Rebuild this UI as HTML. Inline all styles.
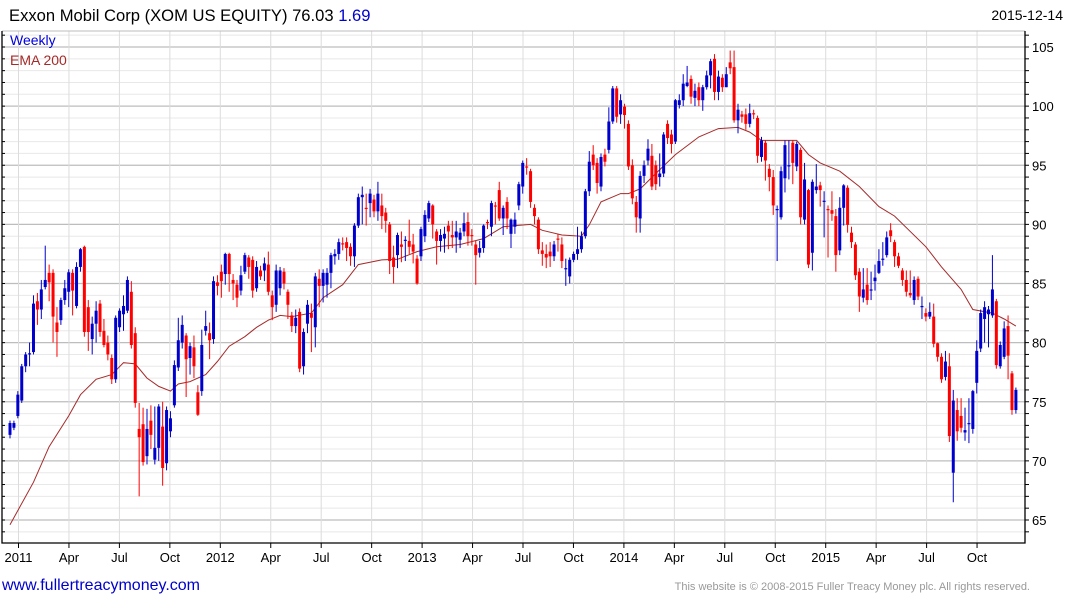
<!DOCTYPE html>
<html><head><meta charset="utf-8"><style>
html,body{margin:0;padding:0;background:#fff;}
body{width:1075px;height:600px;overflow:hidden;font-family:"Liberation Sans",Arial,sans-serif;}
svg text{font-family:"Liberation Sans",Arial,sans-serif;}
</style></head><body>
<svg id="chart" width="1075" height="600" xmlns="http://www.w3.org/2000/svg">
<g id="grid"></g>
<g id="ema"></g>
<g id="candles"></g>
<g id="axes"></g>
<text x="9" y="21" font-size="16.6" fill="#000">Exxon Mobil Corp (XOM US EQUITY) 76.03 <tspan fill="#0000cc">1.69</tspan></text>
<text x="1063" y="20" font-size="14" fill="#000" text-anchor="end">2015-12-14</text>
<text x="10" y="45" font-size="14" fill="#0000dd">Weekly</text>
<text x="10" y="65" font-size="14" fill="#a52a2a">EMA 200</text>
<text x="2" y="590" font-size="16" fill="#0000cc">www.fullertreacymoney.com</text>
<text x="1030" y="590" font-size="11" fill="#999" text-anchor="end">This website is © 2008-2015 Fuller Treacy Money plc. All rights reserved.</text>
</svg>
<script>
const opens=[72.2,72.8,73.8,75.1,78.0,79.0,79.2,83.5,82.8,84.7,85.9,85.9,81.7,81.9,83.6,84.3,85.9,83.1,86.4,88.1,83.0,80.3,81.6,83.3,81.0,80.0,78.7,76.9,81.3,82.4,82.7,84.3,80.8,72.7,73.1,70.4,73.4,70.1,71.1,72.9,69.8,72.5,74.7,77.9,80.0,80.6,78.7,79.6,75.8,75.9,81.0,80.8,80.3,85.1,86.0,85.8,87.5,85.3,84.9,84.4,86.0,87.2,87.0,84.6,86.1,86.1,86.6,84.0,83.2,84.6,86.0,84.3,82.3,81.4,82.6,78.0,81.6,82.5,81.3,85.4,84.8,84.9,85.9,87.3,87.5,88.4,88.5,88.1,87.3,89.9,92.3,91.4,91.8,92.1,91.1,91.6,91.0,90.0,87.2,87.4,88.3,88.6,88.6,88.3,87.1,87.3,89.0,90.5,91.6,89.4,88.6,88.8,89.9,89.1,88.9,88.7,89.4,90.2,89.1,88.3,87.6,88.0,90.2,89.8,91.6,92.9,90.5,91.9,89.2,89.8,91.6,93.2,94.9,94.5,91.4,90.4,87.8,87.5,87.7,87.3,88.8,88.3,86.2,85.6,87.0,87.5,87.9,89.0,92.8,95.9,95.2,93.2,95.9,96.3,98.7,101.5,99.3,99.96,98.5,95.0,91.9,90.5,94.1,95.4,95.8,95.0,94.0,94.3,98.5,97.6,97.0,100.1,100.5,101.7,102.3,100.7,101.6,100.5,101.6,102.6,104.0,101.2,102.4,101.6,103.7,103.3,98.8,99.3,99.3,98.5,99.4,99.0,95.7,96.9,94.7,94.0,91.3,90.6,93.9,95.0,96.9,94.9,96.3,90.4,92.9,87.6,92.9,93.3,92.0,91.3,91.2,90.7,87.8,91.4,93.1,89.3,88.3,86.0,83.8,84.9,84.5,85.2,85.9,87.1,87.4,89.5,88.5,87.3,86.1,85.3,84.2,83.6,85.4,83.1,82.5,82.2,82.2,79.95,78.8,77.1,78.0,69.0,74.3,73.8,72.4,73.2,72.7,76.6,79.5,82.0,82.4,82.3,83.5,78.0,78.8,81.4,77.4,74.3];
const closes=[73.2,73.2,75.6,78.0,79.0,79.1,83.3,82.8,84.5,85.3,85.1,82.2,80.9,83.6,84.6,85.95,84.4,86.4,87.9,80.9,80.9,81.6,82.7,80.9,79.8,79.0,76.9,82.1,82.7,83.1,85.3,79.8,74.9,72.0,69.9,72.7,72.2,71.1,74.6,69.4,74.3,73.6,78.1,80.2,81.5,78.6,79.7,78.0,73.9,79.8,81.4,80.2,85.2,84.8,85.2,87.5,85.8,85.0,83.8,85.7,87.4,86.4,84.4,86.4,85.6,86.7,84.3,83.0,86.1,86.1,85.0,83.2,81.4,82.1,77.8,80.9,83.2,82.1,85.6,84.8,85.9,85.9,87.4,87.5,88.5,88.3,88.0,87.3,89.9,92.3,92.5,91.3,92.6,91.1,92.6,90.7,90.3,86.9,86.4,89.1,88.1,88.7,88.1,87.7,85.0,89.6,90.8,91.8,90.0,88.6,89.1,89.2,89.4,88.9,89.4,89.3,90.1,89.0,89.0,87.4,88.0,89.9,90.1,91.8,91.5,90.5,91.4,90.5,90.4,90.4,93.4,95.2,94.8,91.9,90.7,87.9,87.5,87.2,87.3,88.3,88.7,86.9,86.3,87.0,87.5,87.9,89.0,92.8,95.3,95.0,93.5,95.7,95.3,98.7,101.5,99.1,100.5,99.25,94.9,92.2,90.6,94.1,95.0,96.4,93.2,93.4,94.3,97.6,97.3,96.8,100.5,100.5,101.9,102.0,100.8,101.3,100.5,101.6,102.6,103.8,101.2,102.5,101.6,102.7,103.2,98.8,99.7,99.1,98.5,99.4,99.3,95.8,97.1,95.4,94.0,91.6,91.3,94.5,96.7,95.0,95.2,96.8,90.6,93.8,86.6,93.6,93.2,92.9,92.0,91.2,90.9,87.4,91.4,93.3,89.96,88.5,85.7,83.9,84.5,83.6,84.5,85.5,86.9,87.1,88.9,89.0,87.3,86.5,85.3,84.3,84.0,85.3,83.9,83.1,82.2,82.6,79.9,78.8,76.9,78.4,72.1,75.1,72.5,72.8,72.6,73.2,75.9,79.3,82.5,83.0,82.8,84.5,78.1,79.8,81.2,78.9,74.3,76.0];
const highs=[73.4,73.4,75.9,78.2,79.2,80.0,84.0,84.2,85.3,88.2,86.6,86.2,83.0,83.8,85.3,86.2,86.2,86.8,88.0,88.2,83.6,82.2,83.5,83.6,82.0,80.6,79.0,82.3,82.9,84.0,85.6,85.2,81.3,74.9,74.5,74.4,74.7,74.6,74.8,75.0,74.6,74.2,78.5,82.1,82.3,80.8,80.0,80.6,76.4,81.1,82.7,81.7,85.6,85.7,86.6,87.6,87.6,85.8,85.3,86.5,87.6,87.4,87.3,86.9,86.5,87.2,87.7,84.4,86.6,86.4,86.3,84.5,82.6,82.8,82.9,81.2,83.6,83.3,85.9,86.2,86.2,86.3,87.6,87.9,88.8,88.9,88.9,88.4,90.1,92.6,93.2,92.6,93.0,92.5,93.6,92.6,91.4,90.2,88.2,89.3,89.4,89.0,90.4,89.2,87.4,89.8,91.2,92.0,91.7,89.6,89.6,89.8,90.3,90.3,90.3,89.7,91.0,91.0,89.6,88.6,88.6,90.0,90.4,92.0,91.9,93.6,91.6,92.3,90.5,91.0,93.6,95.4,95.6,94.7,91.7,90.6,88.5,88.3,88.5,88.6,89.2,88.9,87.1,87.2,87.7,89.8,89.4,93.0,96.2,96.7,95.6,96.0,96.4,99.9,101.7,101.7,101.0,100.2,98.8,95.5,92.4,94.5,95.4,97.2,96.8,95.4,96.0,97.8,98.8,98.0,100.6,101.0,102.7,103.4,102.6,101.9,102.0,101.8,103.0,104.0,104.4,103.0,102.7,103.3,104.7,104.7,100.2,99.6,99.8,100.2,99.7,99.2,97.4,97.1,95.1,94.6,91.6,94.9,97.1,97.1,97.1,97.0,96.5,95.2,93.0,93.8,95.1,93.6,92.8,91.6,92.8,91.3,92.3,93.4,93.3,89.8,88.5,86.3,86.3,86.3,86.0,86.6,87.9,88.5,89.4,90.1,88.7,87.6,86.3,86.1,86.1,85.6,85.6,83.9,82.9,83.4,83.3,80.0,79.1,79.3,79.1,76.0,75.3,75.3,74.5,75.3,76.0,80.2,82.8,83.5,83.1,87.4,83.7,80.1,81.8,82.3,77.6,76.2];
const lows=[71.9,72.6,73.6,74.9,77.5,78.0,79.0,81.5,82.0,84.5,83.5,80.0,78.8,81.5,83.2,83.0,82.3,82.9,86.0,80.5,79.3,79.0,80.0,80.5,79.6,78.5,76.5,76.6,80.9,81.0,82.5,79.5,74.5,67.0,69.6,69.7,71.0,69.7,70.0,67.9,69.2,72.0,74.5,77.6,79.5,75.4,77.3,77.0,73.8,75.5,80.6,78.6,79.9,84.0,83.8,84.9,84.3,83.6,83.0,84.0,85.8,85.4,83.8,84.3,85.3,85.2,84.0,81.9,82.6,84.0,84.5,82.0,80.9,80.8,77.5,77.3,80.8,79.2,79.6,83.0,83.4,83.8,84.6,86.6,87.0,87.8,86.9,86.5,86.4,89.7,90.0,89.9,90.6,90.6,90.3,89.6,89.3,85.8,85.0,86.3,86.8,86.9,87.5,86.7,84.9,86.9,88.5,90.2,88.8,86.6,87.7,87.6,87.9,88.0,87.6,88.0,89.0,88.2,88.2,84.9,87.2,87.6,89.6,89.0,90.0,90.3,89.1,89.6,88.0,89.2,91.2,92.6,94.2,91.4,90.0,87.5,86.5,86.3,86.4,86.9,87.7,86.3,84.8,85.0,86.8,87.0,87.6,88.8,92.4,94.6,92.6,92.8,94.9,96.0,98.5,98.6,98.5,98.1,94.6,91.7,89.3,89.3,93.5,95.0,92.9,92.9,93.2,94.0,96.8,96.0,96.8,99.8,100.0,101.6,100.2,100.0,100.0,99.6,101.4,101.5,100.5,100.5,101.2,102.0,102.7,98.6,97.7,98.6,98.0,98.2,98.9,95.2,95.3,93.7,92.8,90.8,86.9,90.4,92.7,93.8,93.4,94.5,90.0,90.0,86.3,86.1,92.6,91.5,88.9,87.2,90.3,86.0,87.4,89.9,89.3,88.0,85.3,82.6,83.4,83.2,83.6,84.4,85.8,86.5,87.2,88.5,86.4,86.3,84.8,83.9,83.8,83.2,83.6,82.0,81.8,82.0,79.6,78.4,76.6,76.8,71.6,66.5,71.7,72.4,71.7,71.5,72.3,75.7,79.2,80.0,79.6,82.1,77.8,77.8,78.6,76.9,73.9,74.0];
const emaWeeks=[0,6,10,15,18,22,26,29,32,35,38,41,43,46,50,53,56,60,63,66,69,72,77,80,85,89,95,99,104,109,115,121,126,133,136,141,146,148,151,156,158,161,161,165,170,176,181,186,189,192,196,197,201,204,207,212,217,222,226,234,238,243,246,251,254,257];
const emaVals=[64.6,68.2,71.2,73.8,75.6,76.9,77.3,78.3,78.2,77.0,76.3,75.9,76.5,76.7,77.3,78.4,79.7,80.5,81.3,81.9,82.3,82.2,82.5,83.8,84.9,86.6,87.0,87.05,87.7,88.1,88.3,88.8,89.8,90.0,89.5,89.1,89.0,89.96,91.9,92.6,92.6,93.0,93.0,94.3,95.9,97.4,98.1,98.2,97.8,97.1,97.1,97.1,97.1,95.9,95.2,94.5,93.2,91.5,90.7,88.1,86.4,84.5,82.8,82.5,82.0,81.4];
const yTicks=[65,70,75,80,85,90,95,100,105];
const xLabels=["2011","Apr","Jul","Oct","2012","Apr","Jul","Oct","2013","Apr","Jul","Oct","2014","Apr","Jul","Oct","2015","Apr","Jul","Oct"];

const NS="http://www.w3.org/2000/svg";
const L=2,R=1025,T=31,B=543;
function y(p){return 520-(p-65)*(473/40);}
function x(i){return 10+i*3.914;}
function qx(k){return 18.5+k*50.45;}
function mk(tag,attrs,parent){const e=document.createElementNS(NS,tag);for(const k in attrs)e.setAttribute(k,attrs[k]);parent.appendChild(e);return e;}
const grid=document.getElementById('grid'),axes=document.getElementById('axes'),cg=document.getElementById('candles'),eg=document.getElementById('ema');
for(let p=62;p<=107;p++){const yy=y(p);if(yy<T||yy>B)continue;
 const ln=mk('line',{x1:L,x2:R,y1:yy,y2:yy,stroke:p%5===0?'#bdbdbd':'#e8e8e8','stroke-width':p%5===0?1.2:1},grid);
 
 
 const t=mk('line',{x1:R,x2:R+4,y1:yy,y2:yy,stroke:'#000'},axes);
 
 
 const t2=mk('line',{x1:L,x2:L+3,y1:yy,y2:yy,stroke:'#000'},axes);
 
 
}
xLabels.forEach((lab,k)=>{const xx=qx(k);
 const v=mk('line',{x1:xx,x2:xx,y1:T,y2:B,stroke:'#dcdcdc'},grid);
 
 
 const tk=mk('line',{x1:xx,x2:xx,y1:B,y2:B+5,stroke:'#000'},axes);
 
 
 const t=mk('text',{x:xx,y:562,'font-size':13,'text-anchor':'middle',fill:'#000'},axes);t.textContent=lab;
 
 
});
yTicks.forEach(p=>{const t=mk('text',{x:1032,y:y(p)+5,'font-size':13,fill:'#000'},axes);t.textContent=p;
 
 
});
const fr=mk('path',{d:`M${L},${T}V${B}H${R}V${T}`,fill:'none',stroke:'#000','stroke-width':1.3},axes);


const tl=mk('line',{x1:L,x2:R,y1:T,y2:T,stroke:'#bdbdbd'},grid);


const pts=emaWeeks.map((w,i)=>x(w).toFixed(1)+','+y(emaVals[i]).toFixed(1)).join(' ');
const pl=mk('polyline',{points:pts,fill:'none',stroke:'#a52a2a','stroke-width':1},eg);


closes.forEach((c,i)=>{const o=opens[i];const up=c>=o;const col=up?'#0000cc':'#ff0000';
 const hi=Math.max(highs[i],o,c),lo=Math.min(lows[i],o,c);const xx=x(i);
 const g=mk('g',{},cg);
 
 
 mk('line',{x1:xx,x2:xx,y1:y(hi),y2:y(lo),stroke:col,'stroke-width':1},g);
 const top=y(Math.max(o,c)),bot=y(Math.min(o,c));
 mk('rect',{x:xx-1.5,y:top,width:3,height:Math.max(1.2,bot-top),fill:col},g);
});
</script>
</body></html>
